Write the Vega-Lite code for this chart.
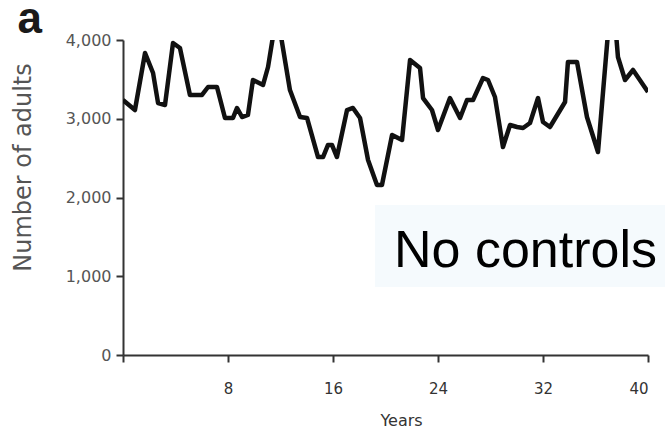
{
  "$schema": "https://vega.github.io/schema/vega-lite/v6.json",
  "width": 525,
  "height": 315,
  "autosize": {"type": "none"},
  "padding": {"left": 123, "top": 40, "right": 17, "bottom": 75},
  "background": "white",
  "config": {"view": {"stroke": null}},
  "datasets": {
    "series": [
      {"year": 0.0, "adults": 3238},
      {"year": 0.91, "adults": 3111},
      {"year": 1.68, "adults": 3835},
      {"year": 2.29, "adults": 3581},
      {"year": 2.67, "adults": 3200},
      {"year": 3.2, "adults": 3175},
      {"year": 3.81, "adults": 3962},
      {"year": 4.34, "adults": 3898},
      {"year": 5.1, "adults": 3302},
      {"year": 6.02, "adults": 3302},
      {"year": 6.48, "adults": 3403},
      {"year": 7.16, "adults": 3403},
      {"year": 7.77, "adults": 3010},
      {"year": 8.38, "adults": 3010},
      {"year": 8.69, "adults": 3137},
      {"year": 9.07, "adults": 3022},
      {"year": 9.52, "adults": 3048},
      {"year": 9.9, "adults": 3492},
      {"year": 10.67, "adults": 3429},
      {"year": 11.05, "adults": 3657},
      {"year": 11.73, "adults": 4355},
      {"year": 12.72, "adults": 3365},
      {"year": 13.49, "adults": 3022},
      {"year": 14.02, "adults": 3010},
      {"year": 14.86, "adults": 2514},
      {"year": 15.24, "adults": 2514},
      {"year": 15.62, "adults": 2667},
      {"year": 15.92, "adults": 2667},
      {"year": 16.3, "adults": 2514},
      {"year": 17.07, "adults": 3111},
      {"year": 17.52, "adults": 3137},
      {"year": 18.06, "adults": 3010},
      {"year": 18.67, "adults": 2476},
      {"year": 19.35, "adults": 2159},
      {"year": 19.73, "adults": 2159},
      {"year": 20.5, "adults": 2794},
      {"year": 21.26, "adults": 2730},
      {"year": 21.87, "adults": 3746},
      {"year": 22.63, "adults": 3644},
      {"year": 22.86, "adults": 3263},
      {"year": 23.54, "adults": 3111},
      {"year": 24.0, "adults": 2857},
      {"year": 24.91, "adults": 3263},
      {"year": 25.68, "adults": 3010},
      {"year": 26.21, "adults": 3238},
      {"year": 26.67, "adults": 3238},
      {"year": 27.43, "adults": 3517},
      {"year": 27.81, "adults": 3492},
      {"year": 28.34, "adults": 3276},
      {"year": 28.95, "adults": 2641},
      {"year": 29.49, "adults": 2921},
      {"year": 30.02, "adults": 2895},
      {"year": 30.48, "adults": 2883},
      {"year": 31.01, "adults": 2946},
      {"year": 31.62, "adults": 3263},
      {"year": 32.0, "adults": 2959},
      {"year": 32.53, "adults": 2895},
      {"year": 33.68, "adults": 3213},
      {"year": 33.9, "adults": 3721},
      {"year": 34.59, "adults": 3721},
      {"year": 35.35, "adults": 3022},
      {"year": 36.19, "adults": 2578},
      {"year": 37.26, "adults": 4700},
      {"year": 37.71, "adults": 3784},
      {"year": 38.25, "adults": 3492},
      {"year": 38.86, "adults": 3619},
      {"year": 40.0, "adults": 3340}
    ],
    "label": [
      {"x": 19.2, "x2": 41.3, "y": 1905, "y2": 863, "x_text": 20.65, "y_text": 1117, "text": "No controls"}
    ],
    "panel": [
      {"x": -7.1, "y": 4089, "text": "a"}
    ]
  },
  "layer": [
    {
      "data": {"name": "label"},
      "mark": {"type": "rect", "fill": "#f5fafd", "clip": false},
      "encoding": {
        "x": {"field": "x", "type": "quantitative"},
        "x2": {"field": "x2"},
        "y": {"field": "y", "type": "quantitative"},
        "y2": {"field": "y2"}
      }
    },
    {
      "data": {"name": "series"},
      "mark": {"type": "line", "color": "#111111", "strokeWidth": 4.5, "strokeJoin": "round", "strokeCap": "butt", "clip": true},
      "encoding": {
        "x": {
          "field": "year",
          "type": "quantitative",
          "scale": {"domain": [0, 40], "nice": false, "zero": false},
          "axis": {
            "title": "Years",
            "values": [0, 8, 16, 24, 32, 40],
            "labelExpr": "datum.value == 0 ? '' : datum.label",
            "grid": false,
            "domainColor": "#333333",
            "domainWidth": 2,
            "tickColor": "#333333",
            "tickWidth": 2,
            "tickSize": 7,
            "labelFont": "DejaVu Sans",
            "labelFontSize": 15,
            "labelColor": "#333333",
            "labelPadding": 19,
            "titleFont": "DejaVu Sans",
            "titleFontSize": 16,
            "titleFontWeight": "normal",
            "titleColor": "#333333",
            "titlePadding": 16,
            "titleX": 278
          }
        },
        "y": {
          "field": "adults",
          "type": "quantitative",
          "scale": {"domain": [0, 4000], "nice": false},
          "axis": {
            "title": "Number of adults",
            "values": [0, 1000, 2000, 3000, 4000],
            "format": ",.0f",
            "grid": false,
            "domainColor": "#333333",
            "domainWidth": 2,
            "tickColor": "#333333",
            "tickWidth": 2,
            "tickSize": 7,
            "labelFont": "DejaVu Sans",
            "labelFontSize": 16,
            "labelColor": "#555555",
            "labelPadding": 5,
            "titleFont": "DejaVu Sans",
            "titleFontSize": 24,
            "titleFontWeight": "normal",
            "titleColor": "#555555",
            "titlePadding": 30,
            "titleY": 127
          }
        }
      }
    },
    {
      "data": {"name": "label"},
      "mark": {"type": "text", "align": "left", "baseline": "alphabetic", "font": "Liberation Sans", "fontSize": 52, "color": "#000000", "clip": false},
      "encoding": {
        "x": {"field": "x_text", "type": "quantitative"},
        "y": {"field": "y_text", "type": "quantitative"},
        "text": {"field": "text"}
      }
    },
    {
      "data": {"name": "panel"},
      "mark": {"type": "text", "align": "center", "baseline": "alphabetic", "font": "Liberation Sans", "fontSize": 44, "fontWeight": "bold", "color": "#1a1a1a", "clip": false},
      "encoding": {
        "x": {"field": "x", "type": "quantitative"},
        "y": {"field": "y", "type": "quantitative"},
        "text": {"field": "text"}
      }
    }
  ]
}
